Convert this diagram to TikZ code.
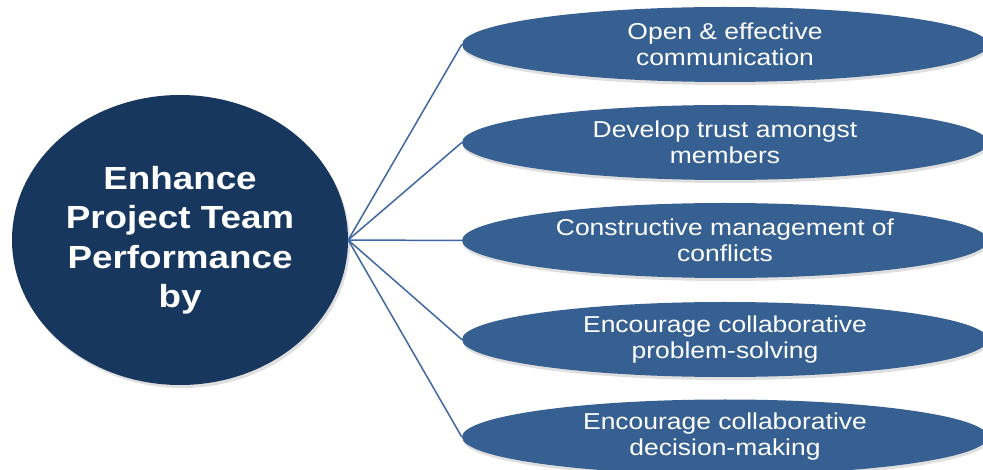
\documentclass[tikz,border=0pt]{standalone}
\usepackage{fontspec}
\setmainfont{Liberation Sans}[FakeStretch=1.15]
\usepackage{xcolor}
\usepackage{tikz}
\usetikzlibrary{shapes.geometric, shadows}
\definecolor{hubblue}{HTML}{17375E}
\definecolor{itemblue}{HTML}{376092}
\definecolor{linkblue}{HTML}{3E67A3}

\begin{document}
\begin{tikzpicture}[x=1bp, y=-1bp,
    hub/.style={ellipse, fill=hubblue, minimum width=336bp, minimum height=290bp, inner sep=0pt, text=white, align=center,
        font=\fontsize{32bp}{39.5bp}\selectfont\bfseries, drop shadow={shadow xshift=2bp, shadow yshift=-3bp, opacity=0.25}},
    item/.style={ellipse, fill=itemblue, minimum width=526bp, minimum height=75bp, inner sep=0pt, text=white, align=center,
        font=\fontsize{23bp}{26bp}\selectfont, drop shadow={shadow xshift=1bp, shadow yshift=-3bp, opacity=0.25}},
    link/.style={draw=linkblue, line width=1.5bp}
]
\useasboundingbox (0,0) rectangle (983,470);
\clip (0,0) rectangle (983,470);

% Central idea
\node[hub] (hub) at (180,240) {Enhance\\Project Team\\Performance\\by};

% The five ways
\node[item] (comm) at (725,44.5) {Open \& effective\\communication};
\node[item] (trust) at (725,142.5) {Develop trust amongst\\members};
\node[item] (confl) at (725,240.5) {Constructive management of\\conflicts};
\node[item] (solve) at (725,339.5) {Encourage collaborative\\problem-solving};
\node[item] (decide) at (725,437) {Encourage collaborative\\decision-making};

% Links from the hub
\draw[link] (hub.east) -- (comm.west);
\draw[link] (hub.east) -- (trust.west);
\draw[link] (hub.east) -- (confl.west);
\draw[link] (hub.east) -- (solve.west);
\draw[link] (hub.east) -- (decide.west);

\end{tikzpicture}
\end{document}
